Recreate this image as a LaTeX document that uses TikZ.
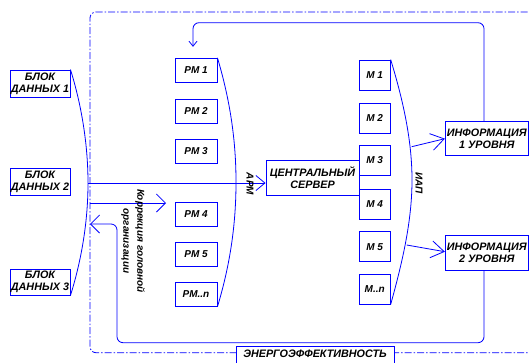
\documentclass[tikz,border=0pt]{standalone}
\usepackage{fontspec}
\setmainfont{Liberation Sans}
\usetikzlibrary{arrows.meta}
\begin{document}
\begin{tikzpicture}[x=1pt,y=-1pt,
  box/.style={draw=blue, line width=0.9pt, fill=white, text=black,
    font=\bfseries\itshape\fontsize{10.8}{12}\selectfont, align=center, inner sep=0pt},
  ln/.style={draw=blue, line width=0.8pt},
  framel/.style={draw=blue, line width=0.8pt, dash pattern=on 7pt off 2pt on 1.5pt off 2pt, rounded corners=6pt},
  lbl/.style={text=black, font=\bfseries\itshape\fontsize{10}{14}\selectfont, rotate=-90, align=center, inner sep=0pt},
  barbbig/.style={-{Straight Barb[length=13pt,width=17pt]}},
  barbmid/.style={-{Straight Barb[length=9pt,width=15pt]}},
  barbwide/.style={-{Straight Barb[length=9pt,width=18pt]}},
  barbsmall/.style={-{Straight Barb[length=5pt,width=8pt]}},
  pmbox/.style={box, font=\bfseries\itshape\fontsize{10}{12}\selectfont, minimum width=42pt, minimum height=24pt},
  mbox/.style={box, font=\bfseries\itshape\fontsize{10}{12}\selectfont, minimum width=31pt, minimum height=30pt}
]
\useasboundingbox (0,0) rectangle (529,362);
\clip (0,0) rectangle (529,362);

% dash-dot frame
\draw[framel] (540,12) -- (90,12) -- (90,352.7) -- (540,352.7);

% left data blocks
\node[box, minimum width=60pt, minimum height=27pt] (b1) at (40,83.5) {БЛОК\\ДАННЫХ 1};
\node[box, minimum width=60pt, minimum height=27.5pt] (b2) at (40,182) {БЛОК\\ДАННЫХ 2};
\node[box, minimum width=60pt, minimum height=26pt] (b3) at (40,282) {БЛОК\\ДАННЫХ 3};

% PM boxes
\node[pmbox] (pm1) at (196,70.3) {РМ 1};
\node[pmbox] (pm2) at (196,111) {РМ 2};
\node[pmbox] (pm3) at (196,151.3) {РМ 3};
\node[pmbox] (pm4) at (196,214) {РМ 4};
\node[pmbox] (pm5) at (196,254) {РМ 5};
\node[pmbox] (pmn) at (196,294.3) {РМ..n};

% M boxes
\node[mbox] (m1) at (374.7,75) {М 1};
\node[mbox] (m2) at (374.7,118.3) {М 2};
\node[mbox] (m3) at (374.7,160) {М 3};
\node[mbox] (m4) at (374.7,204.3) {М 4};
\node[mbox] (m5) at (374.7,246.7) {М 5};
\node[mbox] (mn) at (374.7,289) {М..n};

% server
\node[box, minimum width=93pt, minimum height=35pt] (srv) at (312.5,177.5) {ЦЕНТРАЛЬНЫЙ\\СЕРВЕР};

% info boxes
\node[box, minimum width=83pt, minimum height=34pt] (inf1) at (486.8,138.7) {ИНФОРМАЦИЯ\\1 УРОВНЯ};
\node[box, minimum width=83pt, minimum height=35pt] (inf2) at (486.8,253.2) {ИНФОРМАЦИЯ\\2 УРОВНЯ};

% brackets
\coordinate (lapex) at (88,183);
\draw[ln] (b1.north east) .. controls (80,100) and (88,140) .. (lapex)
  .. controls (88,226) and (80,265) .. (b3.south east);
\coordinate (papex) at (236,182);
\draw[ln] (pm1.north east) .. controls (230,100) and (236,140) .. (papex)
  .. controls (236,225) and (230,265) .. (pmn.south east);
\coordinate (mapex) at (412,180);
\draw[ln] (m1.north east) .. controls (403,100) and (412,140) .. (mapex)
  .. controls (412,220) and (403,260) .. (mn.south east);

% main line to server
\draw[ln, barbmid] (lapex) -- (srv.west |- lapex);

% arrows to info boxes
\coordinate (ma1) at (411.7,146.7);
\coordinate (ma2) at (406.7,245);
\draw[ln, barbbig] (ma1) -- (inf1.west);
\draw[ln, barbbig] (ma2) -- ([yshift=1.5pt]inf2.west);

% feedback top
\draw[ln, rounded corners=6pt, barbsmall] ([xshift=-2.8pt]inf1.north) |- (193,22.7) -- ([xshift=-3pt,yshift=11pt]pm1.north);

% feedback bottom
\coordinate (fl) at (90,224);
\draw[ln, rounded corners=6pt, barbwide] ([xshift=-2.8pt]inf2.south) |- (117,342.7) |- (fl);

% correction arrow
\coordinate (cs) at (90,203);
\coordinate (ce) at (166,203);
\draw[ln, barbwide] (cs) -- (ce);

% labels
\node[lbl] (larm) at (250,184) {АРМ};
\node[lbl] (liap) at (419,183) {ИАП};
\node[lbl] (lcor) at (133,241) {Коррекция головной\\организации};

% energy box
\node[box, anchor=north, minimum width=158pt, text height=9.4pt, text depth=15pt, inner ysep=1.5pt] (en) at (315,346) {ЭНЕРГОЭФФЕКТИВНОСТЬ};
\end{tikzpicture}
\end{document}
